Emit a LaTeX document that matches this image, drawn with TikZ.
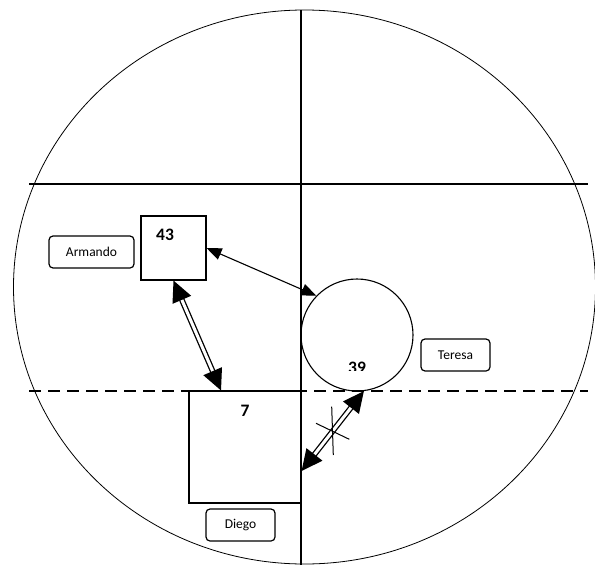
\documentclass[tikz,border=0pt]{standalone}
\usepackage{fontspec}
\setmainfont{Carlito}
\usetikzlibrary{arrows.meta,calc}
\begin{document}
\begin{tikzpicture}[x=1pt,y=-1pt,
  namebox/.style={draw,line width=1.2pt,rounded corners=4pt,minimum height=32pt,inner sep=0pt,font=\fontsize{13.5}{15}\selectfont},
  sqbox/.style={draw,line width=1.1pt,inner sep=0pt},
  num/.style={font=\fontsize{17.5}{19}\selectfont\bfseries,inner sep=0pt},
  axis/.style={line width=1.4pt},
  thinarrow/.style={line width=1.1pt,{Triangle[length=15pt,width=12pt]}-{Triangle[length=15pt,width=12pt]}},
  dblarrow/.style={line width=1.3pt,double,double distance=3pt,{Triangle[length=21pt,width=20pt]}-{Triangle[length=21pt,width=20pt]}}
]
\useasboundingbox (0,0) rectangle (595,565);
% big ellipse
\draw[line width=0.8pt] (304.5,287) ellipse [x radius=291, y radius=277];
% axes
\draw[axis] (301,10) -- (301,565);
\draw[axis] (29,184) -- (588,184);
\draw[axis,dash pattern=on 12pt off 7pt] (29,391) -- (588,391);
% shapes
\node[sqbox,minimum width=65pt,minimum height=64pt] (sq43) at (173.5,248) {};
\node[num] (t43) at (165,235) {43};
\node[sqbox,minimum width=112pt,minimum height=112pt,fill=white] (sq7) at (245,447) {};
\node[num] (t7) at (245,411) {7};
\node[draw,line width=1.1pt,circle,minimum size=112pt,inner sep=0pt] (circ) at (357,335) {};
\begin{scope}
\clip (330,350) rectangle (385,370);
\node[num] (t39) at (357,368) {39};
\end{scope}
\node[namebox,minimum width=85pt] (armando) at (91.5,252) {Armando};
\node[namebox,minimum width=69pt] (teresa) at (455.5,355) {Teresa};
\node[namebox,minimum width=69pt] (diego) at (240.5,525) {Diego};
% connectors
\draw[thinarrow] (sq43.east) -- (circ.136);
\draw[dblarrow] (sq43.south) -- ([xshift=-24pt]sq7.north);
\draw[dblarrow] ([yshift=-24pt]sq7.east) -- (circ.-83);
% cross marks
\draw[line width=1pt] (331.7,406.7) -- (333.3,455);
\draw[line width=1pt] (316,423.3) -- (349.3,439.3);
\end{tikzpicture}
\end{document}
